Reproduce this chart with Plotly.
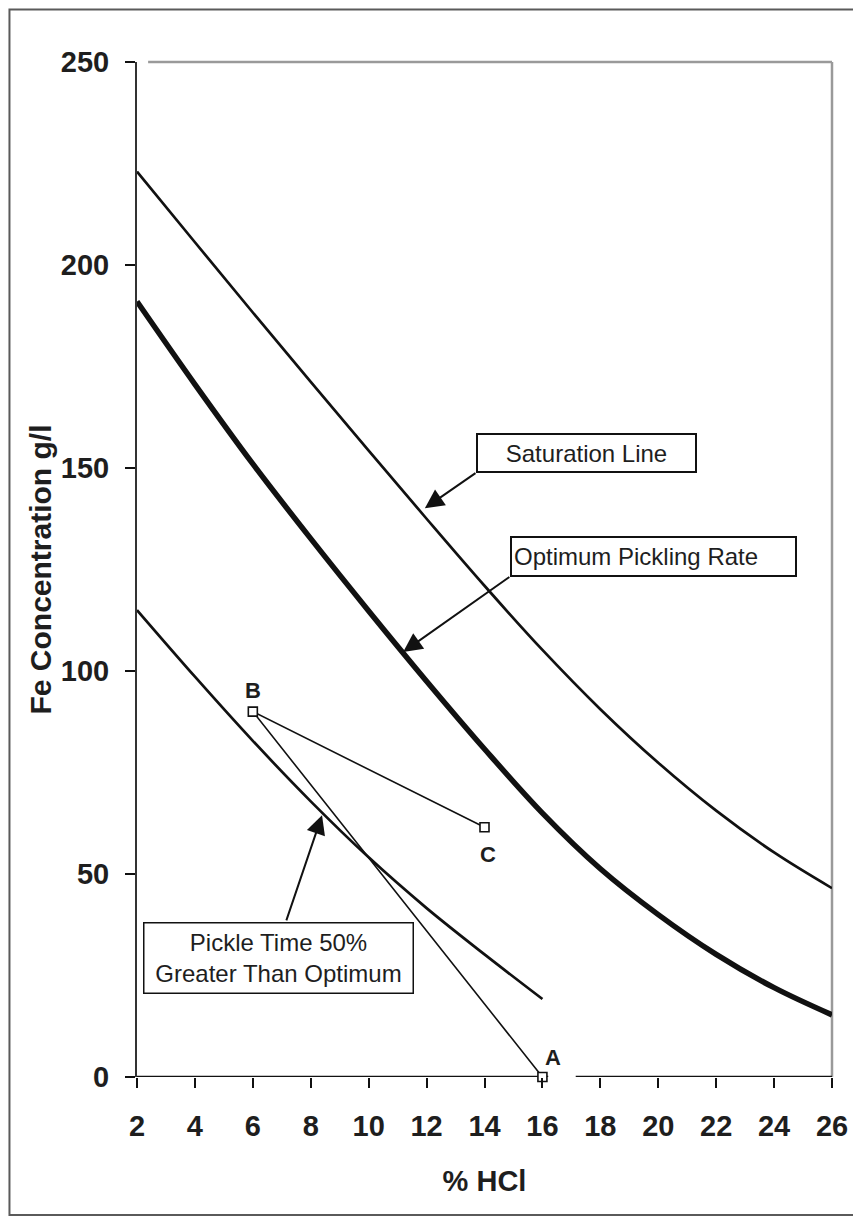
import plotly.graph_objects as go

# ---- data ----
hcl_full = [2, 4, 6, 8, 10, 12, 14, 16, 18, 20, 22, 24, 26]
saturation = [223, 205.6, 188.3, 171.2, 154.3, 137.5, 121, 105.2, 90.6, 77.4, 65.6, 55.3, 46.5]
optimum = [191, 170.6, 151, 132.6, 114.8, 97.5, 80.8, 65, 51.3, 40, 30.2, 22, 15.3]
hcl_pickle = [2, 4, 6, 8, 10, 12, 14, 16]
pickle_50 = [115, 98.6, 82.8, 67.9, 54.1, 41.6, 30.2, 19.2]
path_x = [16, 6, 14]          # A -> B -> C
path_y = [0, 90, 61.5]
path_labels = ["A", "B", "C"]

x_ticks = list(range(2, 27, 2))
y_ticks = list(range(0, 251, 50))

FONT = "Liberation Sans, Arial, sans-serif"
INK = "#1e1e1e"

fig = go.Figure()

fig.add_trace(go.Scatter(x=hcl_full, y=saturation, mode="lines",
                         line=dict(color="#111", width=2.7, shape="spline", smoothing=1.0),
                         showlegend=False, hoverinfo="skip"))
fig.add_trace(go.Scatter(x=hcl_full, y=optimum, mode="lines",
                         line=dict(color="#111", width=5.5, shape="spline", smoothing=1.0),
                         showlegend=False, hoverinfo="skip"))
fig.add_trace(go.Scatter(x=hcl_pickle, y=pickle_50, mode="lines",
                         line=dict(color="#111", width=2.7, shape="spline", smoothing=1.0),
                         showlegend=False, hoverinfo="skip"))
fig.add_trace(go.Scatter(x=path_x, y=path_y, mode="lines+markers",
                         line=dict(color="#111", width=1.6),
                         marker=dict(symbol="square", size=9, color="white",
                                     line=dict(color="#111", width=1.6)),
                         cliponaxis=False, showlegend=False, hoverinfo="skip"))

# point labels A, B, C
label_pos = {"A": (16.36, 4.7), "B": (6.0, 95.3), "C": (14.12, 54.7)}
for lab in path_labels:
    lx, ly = label_pos[lab]
    fig.add_annotation(x=lx, y=ly, text=lab, showarrow=False,
                       font=dict(family=FONT, size=22, color=INK, weight="bold"))

# callout boxes
box_font = dict(family=FONT, size=24, color=INK)
fig.add_annotation(x=17.52, y=153.7, text="Saturation Line", showarrow=False,
                   font=box_font, bgcolor="white", bordercolor="#111", borderwidth=2,
                   borderpad=0, width=217, height=36)
fig.add_annotation(x=19.83, y=128.2, text="Optimum Pickling Rate", showarrow=False,
                   font=box_font, bgcolor="white", bordercolor="#111", borderwidth=2,
                   borderpad=2, width=279, height=33, align="left")
fig.add_annotation(x=6.87, y=29.4, text="Pickle Time 50%<br>Greater Than Optimum",
                   showarrow=False, font=box_font, bgcolor="white", bordercolor="#111",
                   borderwidth=1.5, borderpad=0, width=268, height=69)

# arrows
arrows = [((13.74, 149.0), (11.94, 140.1)),
          ((14.91, 123.4), (11.19, 104.7)),
          ((7.14, 38.2), (8.39, 64.5))]
for (tx, ty), (hx, hy) in arrows:
    fig.add_annotation(x=hx, y=hy, ax=tx, ay=ty, axref="x", ayref="y",
                       text="", showarrow=True, arrowhead=2, arrowsize=1.9,
                       arrowwidth=2, arrowcolor="#111", standoff=0, startstandoff=0)

# frame / axis lines
shapes = [
    # outer frame
    dict(type="rect", xref="paper", yref="paper", x0=-0.1835, x1=1.0367, y0=-0.136, y1=1.0517,
         line=dict(color="#5a5a5a", width=2), layer="below"),
    # top & right plot border (grey)
    dict(type="line", xref="paper", yref="paper", x0=0.016, x1=1.0, y0=1, y1=1,
         line=dict(color="#9a9a9a", width=2.5), layer="below"),
    dict(type="line", xref="paper", yref="paper", x0=1, x1=1, y0=0, y1=1,
         line=dict(color="#9a9a9a", width=2.5), layer="below"),
    # bottom axis line with gap near A
    dict(type="line", xref="x", yref="y", x0=2, x1=16.2, y0=0, y1=0,
         line=dict(color="#111", width=2.6), layer="below"),
    dict(type="line", xref="x", yref="y", x0=17.15, x1=26, y0=0, y1=0,
         line=dict(color="#111", width=2.6), layer="below"),
]

tickfont = dict(family=FONT, size=29, color=INK, weight="bold")

fig.update_layout(
    width=853, height=1212,
    margin=dict(l=129, r=29, t=54, b=143),
    paper_bgcolor="white", plot_bgcolor="white",
    shapes=shapes,
    xaxis=dict(range=[2, 26], tickvals=x_ticks, ticktext=[str(v) for v in x_ticks],
               ticks="outside", ticklen=10, tickwidth=2, tickcolor="#111",
               showline=False, showgrid=False, zeroline=False,
               tickfont=tickfont, ticklabelstandoff=13,
               title=dict(text="% HCl", font=dict(family=FONT, size=29, color=INK, weight="bold"),
                          standoff=29)),
    xaxis2=dict(range=[2, 26], tickvals=x_ticks, overlaying="x", anchor="y", side="bottom",
                ticks="inside", ticklen=10, tickwidth=2, tickcolor="#111",
                showticklabels=False, showline=False, showgrid=False, zeroline=False),
    yaxis=dict(range=[0, 250], tickvals=y_ticks, ticktext=[str(v) for v in y_ticks],
               ticks="outside", ticklen=10, tickwidth=2, tickcolor="#111",
               showline=True, linecolor="#333", linewidth=2,
               showgrid=False, zeroline=False,
               tickfont=tickfont, ticklabelstandoff=10,
               title=dict(text="Fe Concentration g/l",
                          font=dict(family=FONT, size=30, color=INK, weight="bold"),
                          standoff=0)),
    yaxis2=dict(range=[0, 250], tickvals=y_ticks, overlaying="y", anchor="x", side="left",
                ticks="inside", ticklen=10, tickwidth=2, tickcolor="#111",
                showticklabels=False, showline=False, showgrid=False, zeroline=False),
)

fig.write_html("out.html")
